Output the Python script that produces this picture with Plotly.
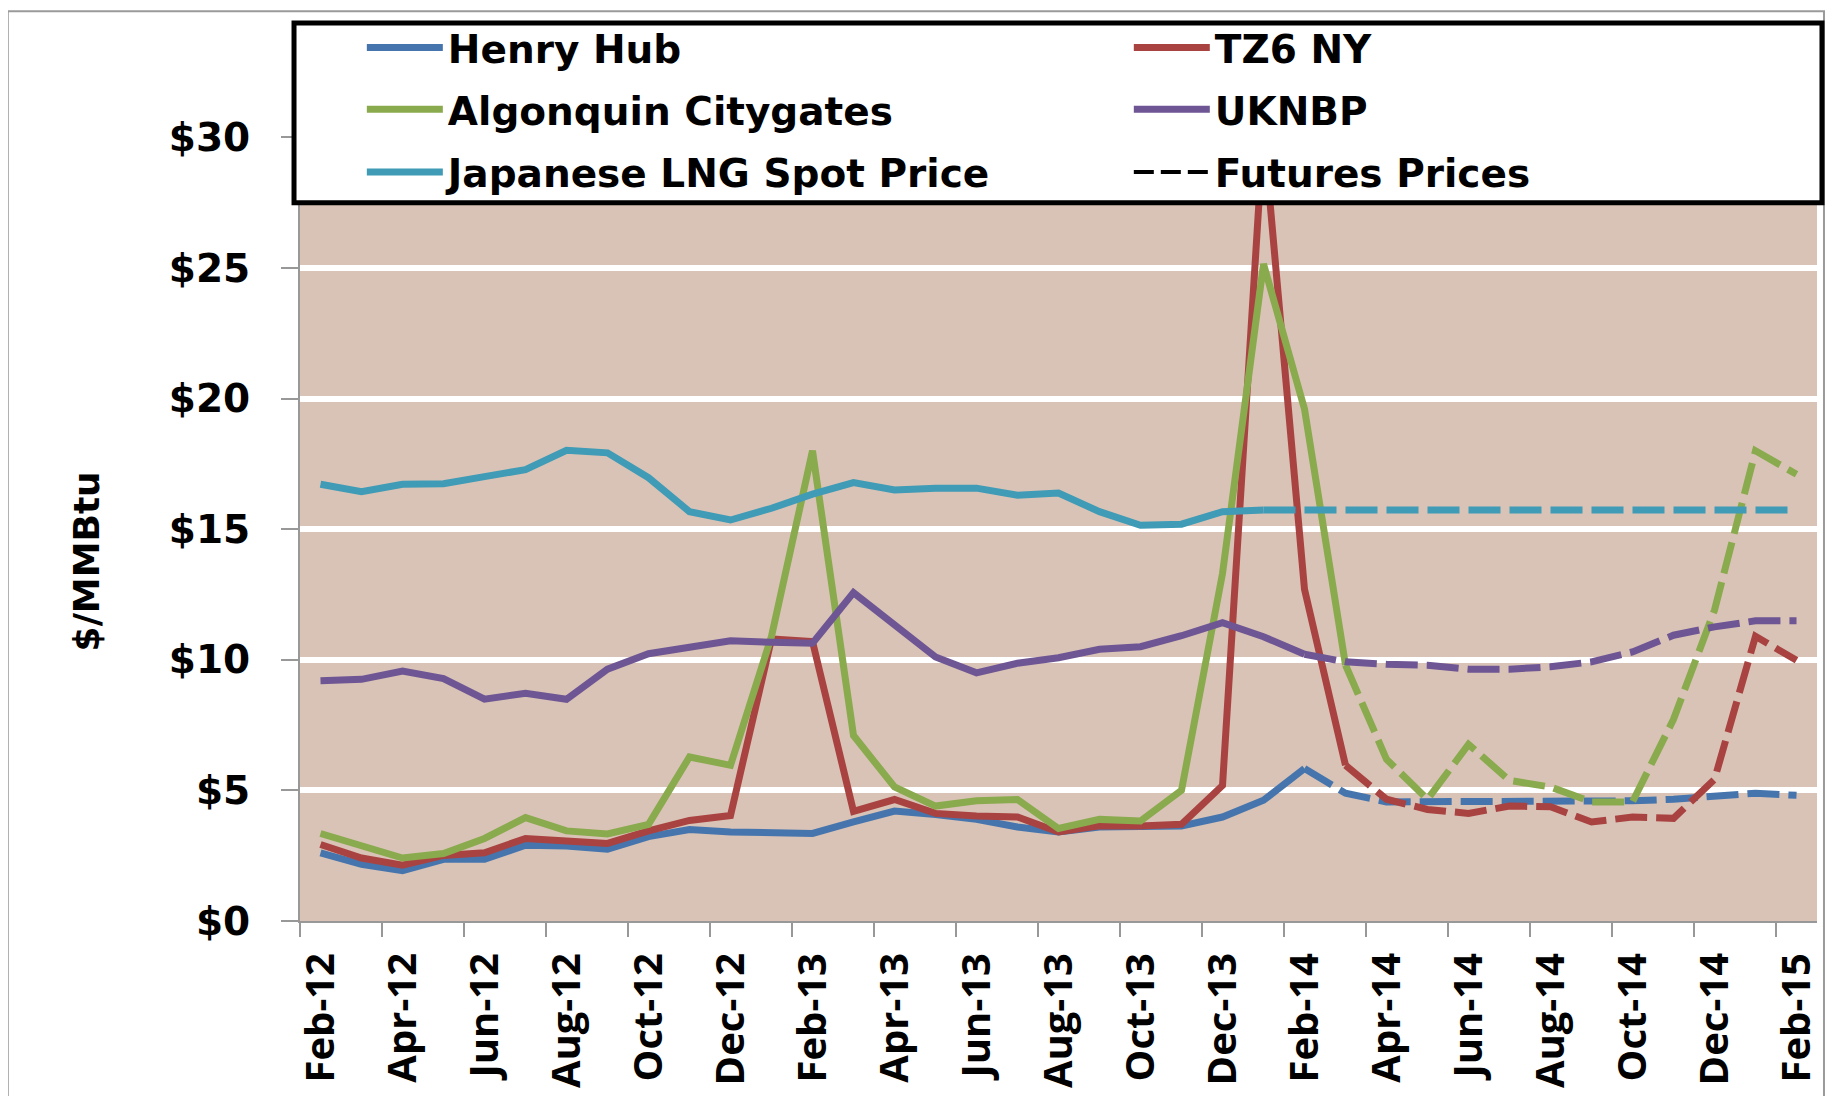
import plotly.graph_objects as go

# month labels, Feb-12 .. Feb-15
months = [
    "Feb-12", "Mar-12", "Apr-12", "May-12", "Jun-12", "Jul-12", "Aug-12", "Sep-12",
    "Oct-12", "Nov-12", "Dec-12", "Jan-13", "Feb-13", "Mar-13", "Apr-13", "May-13",
    "Jun-13", "Jul-13", "Aug-13", "Sep-13", "Oct-13", "Nov-13", "Dec-13", "Jan-14",
    "Feb-14", "Mar-14", "Apr-14", "May-14", "Jun-14", "Jul-14", "Aug-14", "Sep-14",
    "Oct-14", "Nov-14", "Dec-14", "Jan-15", "Feb-15",
]

henry_hub = [
    2.61, 2.17, 1.93, 2.36, 2.36, 2.90, 2.87, 2.75, 3.23, 3.50, 3.41, 3.41, 3.35,
    3.79, 4.21, 4.08, 3.89, 3.60, 3.41, 3.60, 3.60, 3.64, 3.98, 4.62, 5.84,
    4.89, 4.56, 4.56, 4.60, 4.60, 4.60, 4.60, 4.60, 4.66, 4.79, 4.89, 4.81,
]
tz6_ny = [
    2.93, 2.41, 2.14, 2.51, 2.61, 3.16, 3.06, 2.97, 3.45, 3.85, 4.04, 10.80, 10.70,
    4.20, 4.65, 4.12, 4.02, 3.98, 3.41, 3.64, 3.64, 3.70, 5.19, 30.30, 12.70,
    5.96, 4.66, 4.27, 4.12, 4.40, 4.37, 3.79, 3.98, 3.93, 5.42, 10.90, 9.98,
]
algonquin = [
    3.35, 2.87, 2.41, 2.58, 3.16, 3.96, 3.45, 3.33, 3.70, 6.28, 5.96, 10.90, 18.00,
    7.10, 5.13, 4.40, 4.60, 4.65, 3.54, 3.89, 3.83, 5.00, 13.30, 25.15, 19.60,
    9.80, 6.19, 4.66, 6.76, 5.38, 5.13, 4.56, 4.56, 7.72, 11.90, 18.00, 17.10,
]
uknbp = [
    9.20, 9.25, 9.57, 9.28, 8.49, 8.72, 8.49, 9.64, 10.23, 10.50, 10.73, 10.67, 10.63,
    12.57, 11.36, 10.11, 9.50, 9.87, 10.08, 10.40, 10.50, 10.92, 11.42, 10.88, 10.21,
    9.92, 9.83, 9.79, 9.64, 9.64, 9.73, 9.92, 10.30, 10.94, 11.26, 11.49, 11.49,
]
japan_lng = [
    16.72, 16.43, 16.72, 16.74, 17.01, 17.28, 18.02, 17.92, 16.97, 15.67, 15.35, 15.80,
    16.34, 16.78, 16.50, 16.57, 16.57, 16.30, 16.38, 15.67, 15.15, 15.19, 15.67, 15.73,
    15.73, 15.73, 15.73, 15.73, 15.73, 15.73, 15.73, 15.73, 15.73, 15.73, 15.73, 15.73,
    15.73,
]

# index of the last actual (spot) month; futures run from there on
last_actual = {
    "Henry Hub": 24,
    "TZ6 NY": 25,
    "Algonquin Citygates": 25,
    "UKNBP": 24,
    "Japanese LNG Spot Price": 23,
}

y_ticks = [0, 5, 10, 15, 20, 25, 30]

series = [
    ("Henry Hub", henry_hub, "#4675AE"),
    ("TZ6 NY", tz6_ny, "#A94341"),
    ("Algonquin Citygates", algonquin, "#8AAA4E"),
    ("UKNBP", uknbp, "#6E5594"),
    ("Japanese LNG Spot Price", japan_lng, "#3F9BB6"),
]

# page is 1837x1104; the body has an 8px margin, so the figure is a bit smaller
OFF = 8
W, H = 1837 - 2 * OFF, 1104 - 2 * OFF
PL, PR, PT, PB = 300, 1821, 20, 931  # plot area in page pixels


def px(x):
    return (x - PL) / (PR - PL)


def py(y):
    return (PB - y) / (PB - PT)


legend_ids = ["legend", "legend2", "legend3", "legend4", "legend5", "legend6"]

fig = go.Figure()

for k, (name, vals, color) in enumerate(series):
    cut = last_actual[name]
    fig.add_trace(
        go.Scatter(
            x=months[: cut + 1],
            y=vals[: cut + 1],
            mode="lines",
            name=name,
            line=dict(color=color, width=7),
            legend=legend_ids[k],
        )
    )
    fig.add_trace(
        go.Scatter(
            x=months[cut:],
            y=vals[cut:],
            mode="lines",
            name=name + " futures",
            line=dict(color=color, width=7, dash="32px,9px"),
            showlegend=False,
        )
    )

# legend-only entry for the dashed style
fig.add_trace(
    go.Scatter(
        x=[None],
        y=[None],
        mode="lines",
        name="Futures Prices",
        line=dict(color="black", width=4, dash="20px,7px"),
        legend="legend6",
    )
)

legend_font = dict(family="DejaVu Sans", size=39, color="black", weight="bold")
rows_y = [41, 104, 168]
cols_x = [362, 1131]
legend_layout = {}
for k, lid in enumerate(legend_ids):
    legend_layout[lid] = dict(
        x=px(cols_x[k % 2]),
        y=py(rows_y[k // 2]),
        xanchor="left",
        yanchor="middle",
        bgcolor="rgba(0,0,0,0)",
        borderwidth=0,
        font=legend_font,
        itemwidth=76,
        orientation="h",
    )

fig.update_layout(
    width=W,
    height=H,
    margin=dict(l=PL - OFF, r=OFF + W - PR, t=PT - OFF, b=OFF + H - PB, pad=0),
    paper_bgcolor="white",
    plot_bgcolor="#D9C3B6",
    showlegend=True,
    **legend_layout,
)

fig.update_xaxes(
    type="category",
    categoryorder="array",
    categoryarray=months,
    range=[-0.5, len(months) - 0.5],
    tickmode="linear",
    tick0=0,
    dtick=2,
    tickson="boundaries",
    ticks="outside",
    ticklen=14,
    tickwidth=2,
    tickcolor="#989898",
    tickangle=-90,
    tickfont=dict(family="Open Sans", size=40, color="black", weight="bold"),
    ticklabelstandoff=14,
    showline=True,
    linecolor="#989898",
    linewidth=2,
    showgrid=False,
    zeroline=False,
)

fig.update_yaxes(
    range=[0, 30 + (132.4 - PT) / ((PB - 132.4) / 30)],
    tickmode="array",
    tickvals=y_ticks,
    ticktext=[f"${v}" for v in y_ticks],
    ticks="outside",
    ticklen=17,
    tickwidth=2,
    tickcolor="#989898",
    tickfont=dict(family="DejaVu Sans", size=39, color="black", weight="bold"),
    ticklabelstandoff=23,
    showline=True,
    linecolor="#989898",
    linewidth=2,
    showgrid=True,
    gridcolor="white",
    gridwidth=6,
    zeroline=False,
)

# y axis title
fig.add_annotation(
    text="<b>$/MMBtu</b>",
    xref="paper",
    yref="paper",
    x=px(86),
    y=py(565),
    xanchor="center",
    yanchor="middle",
    textangle=-90,
    showarrow=False,
    font=dict(family="DejaVu Sans", size=36, color="black"),
)

# chart outer border and the legend box
fig.add_shape(
    type="rect",
    xref="paper",
    yref="paper",
    x0=px(7),
    x1=px(1828),
    y0=py(1115),
    y1=py(4),
    line=dict(color="#9a9a9a", width=2),
    fillcolor="rgba(0,0,0,0)",
    layer="above",
)
fig.add_shape(
    type="rect",
    xref="paper",
    yref="paper",
    x0=px(294),
    x1=px(1826),
    y0=py(199),
    y1=py(16),
    line=dict(color="black", width=5),
    fillcolor="white",
    layer="above",
)

fig.write_html("out.html")
